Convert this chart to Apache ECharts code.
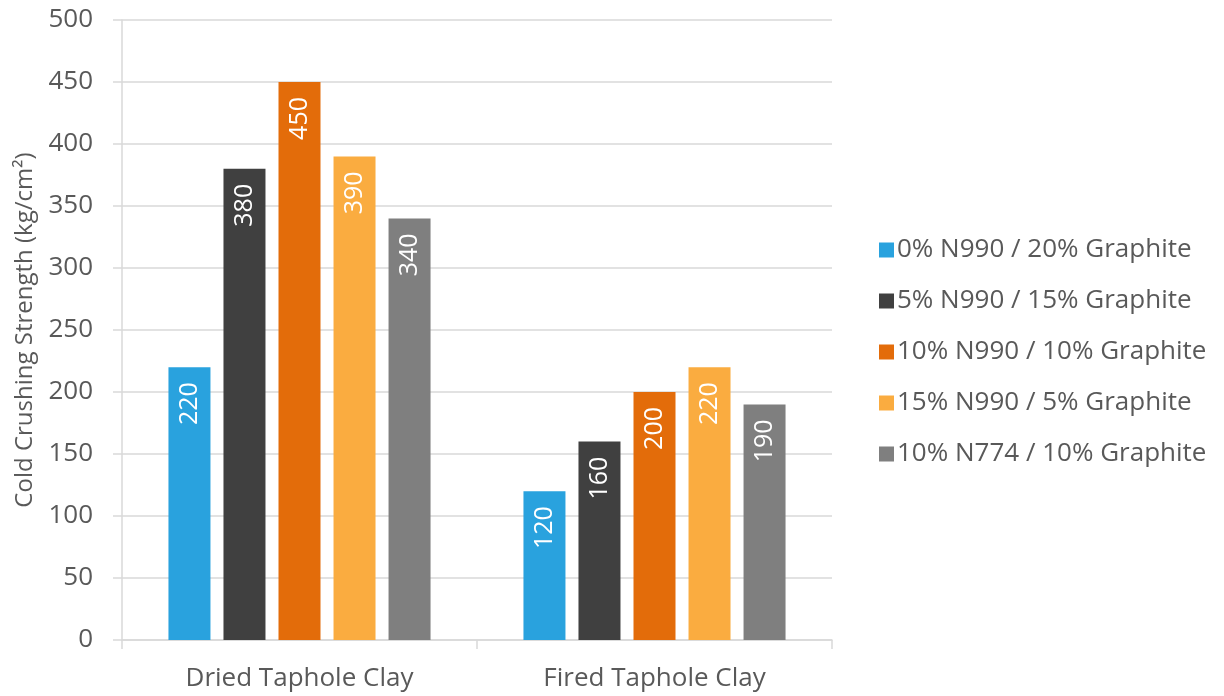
<!DOCTYPE html>
<html>
<head>
<meta charset="utf-8">
<script src="https://cdn.jsdelivr.net/npm/echarts@6/dist/echarts.min.js"></script>
<style>
  html, body { margin: 0; padding: 0; background: #fff; }
  #chart { width: 1224px; height: 696px; }
</style>
</head>
<body>
<div id="chart"></div>
<script>
// Clay types on the category axis
const categories = ['Dried Taphole Clay', 'Fired Taphole Clay'];

// Mix names, one series each
const seriesNames = [
  '0% N990 / 20% Graphite',
  '5% N990 / 15% Graphite',
  '10% N990 / 10% Graphite',
  '15% N990 / 5% Graphite',
  '10% N774 / 10% Graphite'
];

// Cold crushing strength, kg/cm², per clay type
const mix0N990 = [220, 120];
const mix5N990 = [380, 160];
const mix10N990 = [450, 200];
const mix15N990 = [390, 220];
const mix10N774 = [340, 190];

const seriesValues = [mix0N990, mix5N990, mix10N990, mix15N990, mix10N774];
const seriesColors = ['#29A2DE', '#404040', '#E36C0A', '#FAAC40', '#7F7F7F'];

const FONT = 'Open Sans';
const TEXT = '#595959';
const LINE = '#D9D9D9';

const chart = echarts.init(document.getElementById('chart'), null, { renderer: 'canvas' });

chart.setOption({
  animation: false,
  textStyle: { fontFamily: FONT },
  grid: { left: 122, right: 392, top: 20, bottom: 56, containLabel: false },
  legend: {
    orient: 'vertical',
    left: 874,
    top: 232,
    itemWidth: 15,
    itemHeight: 15,
    itemGap: 25,
    icon: 'rect',
    textStyle: { color: TEXT, fontSize: 26, fontFamily: FONT, padding: [0, 0, 0, -2] },
    data: seriesNames
  },
  xAxis: {
    type: 'category',
    data: categories,
    axisLine: { lineStyle: { color: LINE, width: 1.5 } },
    axisTick: { show: true, length: 9, lineStyle: { color: LINE, width: 1.5 } },
    axisLabel: { color: TEXT, fontSize: 26, margin: 26, fontFamily: FONT }
  },
  yAxis: {
    type: 'value',
    min: 0,
    max: 500,
    interval: 50,
    name: 'Cold Crushing Strength (kg/cm²)',
    nameLocation: 'middle',
    nameGap: 85,
    nameTextStyle: { color: TEXT, fontSize: 24, fontFamily: FONT },
    axisLine: { show: true, lineStyle: { color: LINE, width: 1.5 } },
    axisTick: { show: true, length: 9, lineStyle: { color: LINE, width: 1.5 } },
    axisLabel: { color: TEXT, fontSize: 26, margin: 29, fontFamily: FONT },
    splitLine: { lineStyle: { color: LINE, width: 1.5 } }
  },
  series: seriesNames.map((name, i) => ({
    name: name,
    type: 'bar',
    data: seriesValues[i],
    barWidth: 42,
    barGap: '31%',
    itemStyle: { color: seriesColors[i] },
    label: {
      show: true,
      position: 'insideTop',
      distance: 15,
      rotate: 90,
      align: 'right',
      verticalAlign: 'middle',
      color: '#FFFFFF',
      fontSize: 25,
      fontFamily: FONT
    }
  }))
});
</script>
</body>
</html>
